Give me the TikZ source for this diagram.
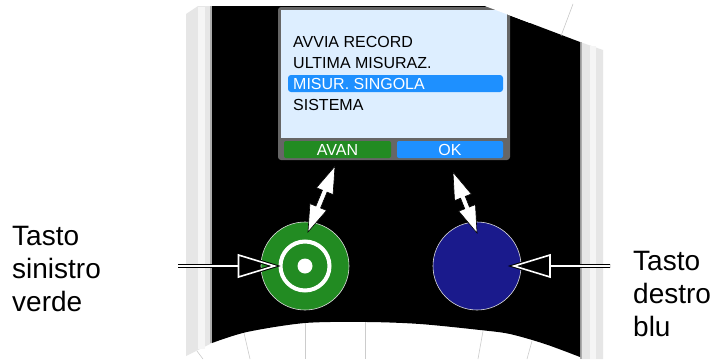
\documentclass[tikz,border=0pt]{standalone}
\usepackage{fontspec}
\setmainfont{Liberation Sans}
\usetikzlibrary{calc}

\definecolor{screenbg}{RGB}{221,238,255}
\definecolor{framegray}{RGB}{102,102,102}
\definecolor{keygreen}{RGB}{34,139,34}
\definecolor{keyblue}{RGB}{30,144,255}
\definecolor{knobblue}{RGB}{26,26,140}
\definecolor{stripgray}{RGB}{230,230,230}

\tikzset{
  menu/.style={anchor=base west, inner sep=0pt, font=\fontsize{16}{19}\selectfont},
  softkey/.style={rounded corners=2pt, inner sep=0pt, minimum height=17pt,
    text=white, font=\fontsize{16}{19}\selectfont},
  caption/.style={anchor=base west, align=left, inner sep=0pt,
    font=\fontsize{28}{33}\selectfont},
  hollow/.style={draw=black, double=white, double distance=1.6pt, line width=1pt},
  twowayarrow/.style={fill=white, draw=black, line width=0.6pt},
  fanline/.style={gray!40, line width=0.6pt},
}

% white block arrow with a head at both ends
\newcommand{\twoway}[2]{%
  \filldraw[twowayarrow] (#1)
    -- ($(#1)!27pt!(#2)!9pt!90:(#2)$) -- ($(#1)!27pt!(#2)!2.5pt!90:(#2)$)
    -- ($(#2)!27pt!(#1)!2.5pt!90:(#2)$) -- ($(#2)!27pt!(#1)!9pt!90:(#2)$)
    -- (#2)
    -- ($(#2)!27pt!(#1)!9pt!-90:(#2)$) -- ($(#2)!27pt!(#1)!2.5pt!-90:(#2)$)
    -- ($(#1)!27pt!(#2)!2.5pt!-90:(#2)$) -- ($(#1)!27pt!(#2)!9pt!-90:(#2)$)
    -- cycle;}

\begin{document}
\begin{tikzpicture}[x=1pt, y=-1pt]
\useasboundingbox (0,0) rectangle (718,359);
\fill[white] (0,0) rectangle (718,359);

% Side strips
\fill[stripgray] (186,14) -- (198,6) -- (212,6) -- (212,343) -- (186,356) -- cycle;
\fill[gray!8] (198,7) rectangle (205,349);
\fill[gray!65] (210,6) rectangle (212,343);
\fill[stripgray] (580,42) -- (603,50) -- (603,359) -- (580,359) -- cycle;
\fill[gray!8] (590,46) rectangle (596,359);
\fill[gray!65] (580,42) rectangle (582,359);

% Body
\fill[black] (212,6) -- (485,6) -- (580,42) -- (580,357)
  -- plot[smooth] coordinates {(580,357) (545,344) (510,334) (480,330)
     (420,324) (367,322) (305,323) (247,332) (212,343)} -- cycle;
\draw[gray!50, line width=0.5pt] (573,4) -- (561,36);

% Lines below the body
\draw[fanline] (197,351) -- (203,359);
\draw[fanline] (244,333) -- (250,359);
\draw[fanline] (305,323) -- (305,359);
\draw[fanline] (365,322) -- (365,359);
\draw[fanline] (483,331) -- (478,359);
\draw[fanline] (532,341) -- (527,359);

% Screen
\fill[framegray, rounded corners=3pt] (278,7) rectangle (510,160);
\fill[screenbg] (281,10) rectangle (507,138);
\fill[white] (485,6) -- (530,23) -- (530,0) -- (485,0) -- cycle;
\fill[keyblue, rounded corners=3pt] (288,75) rectangle (503,92);

\node[menu] (record) at (293,47) {AVVIA RECORD};
\node[menu] (last) at (293,68) {ULTIMA MISURAZ.};
\node[menu, text=white] (single) at (293,89) {MISUR. SINGOLA};
\node[menu] (system) at (293,110) {SISTEMA};

\node[softkey, fill=keygreen, minimum width=107pt] (avan) at (337.5,149.5) {AVAN};
\node[softkey, fill=keyblue, minimum width=106pt] (ok) at (450,149.5) {OK};

% Knobs
\node[circle, fill=keygreen, draw=white!75!gray, line width=0.6pt,
  minimum size=88pt, inner sep=0pt] (knobleft) at (305,266) {};
\node[circle, draw=white, line width=4pt, minimum size=49pt, inner sep=0pt]
  (ringleft) at (knobleft.center) {};
\node[circle, fill=white, minimum size=15pt, inner sep=0pt]
  (dotleft) at (knobleft.center) {};
\node[circle, fill=knobblue, draw=white!75!gray, line width=0.6pt,
  minimum size=88pt, inner sep=0pt] (knobright) at (477,266) {};

% Arrows from the soft keys
\coordinate (avantip) at ($(avan.south)+(-2.5,8)$);
\coordinate (lefttop) at ($(knobleft.center)+(3,-34)$);
\coordinate (oktip) at ($(ok.south)+(3,14)$);
\coordinate (righttop) at ($(knobright.center)+(0,-33)$);
\twoway{avantip}{lefttop}
\twoway{oktip}{righttop}

% Arrows from the labels
\coordinate (lefttail) at (178,266);
\coordinate (lefttip) at ($(ringleft.west)+(-4,0)$);
\coordinate (leftbase) at ($(lefttip)+(-36,0)$);
\draw[hollow] (lefttail) -- (leftbase)
  ($(leftbase)+(0,-11)$) -- (lefttip) -- ($(leftbase)+(0,11)$) -- cycle;
\coordinate (righttail) at (610,266);
\coordinate (righttip) at ($(knobright.center)+(37,0)$);
\coordinate (rightbase) at ($(righttip)+(36,0)$);
\draw[hollow] (righttail) -- (rightbase)
  ($(rightbase)+(0,-11)$) -- (righttip) -- ($(rightbase)+(0,11)$) -- cycle;

% Labels
\node[caption] (lblleft) at (12,311) {Tasto\\sinistro\\verde};
\node[caption] (lblright) at (633,336) {Tasto\\destro\\blu};
\end{tikzpicture}
\end{document}
